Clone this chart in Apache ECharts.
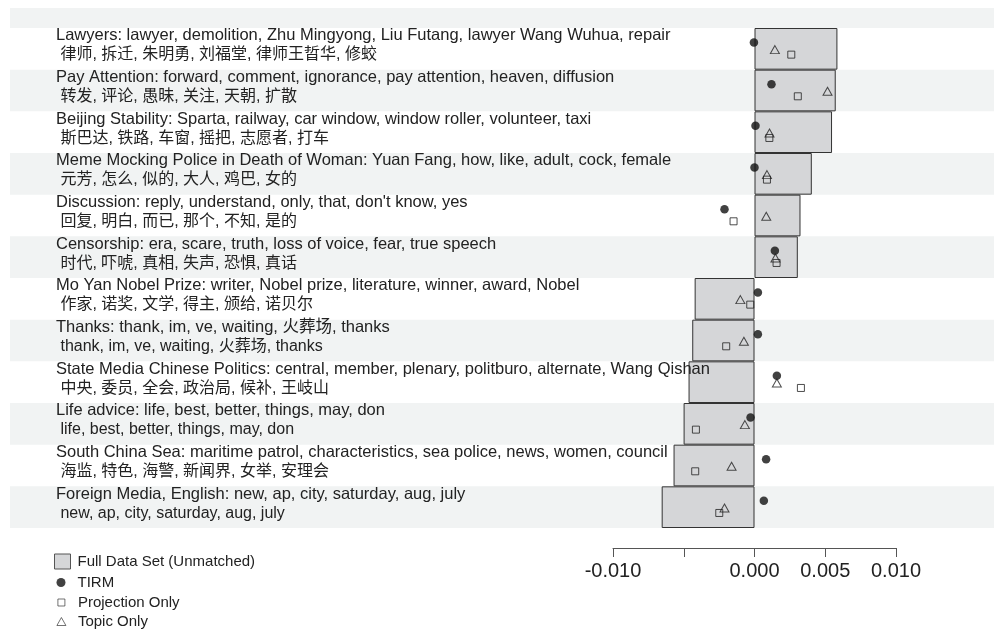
<!DOCTYPE html>
<html>
<head>
<meta charset="utf-8">
<script src="https://cdn.jsdelivr.net/npm/echarts@6/dist/echarts.min.js"></script>
<style>html,body{margin:0;padding:0;background:#fff}#c{width:994px;height:630px}</style>
</head>
<body>
<div id="c"></div>
<script>
var topicsEn = [
  'Lawyers: lawyer, demolition, Zhu Mingyong, Liu Futang, lawyer Wang Wuhua, repair',
  'Pay Attention: forward, comment, ignorance, pay attention, heaven, diffusion',
  'Beijing Stability: Sparta, railway, car window, window roller, volunteer, taxi',
  'Meme Mocking Police in Death of Woman: Yuan Fang, how, like, adult, cock, female',
  "Discussion: reply, understand, only, that, don't know, yes",
  'Censorship: era, scare, truth, loss of voice, fear, true speech',
  'Mo Yan Nobel Prize: writer, Nobel prize, literature, winner, award, Nobel',
  'Thanks: thank, im, ve, waiting, 火葬场, thanks',
  'State Media Chinese Politics: central, member, plenary, politburo, alternate, Wang Qishan',
  'Life advice: life, best, better, things, may, don',
  'South China Sea: maritime patrol, characteristics, sea police, news, women, council',
  'Foreign Media, English: new, ap, city, saturday, aug, july'
];
var topicsZh = [
  '律师, 拆迁, 朱明勇, 刘福堂, 律师王晢华, 修蛟',
  '转发, 评论, 愚昧, 关注, 天朝, 扩散',
  '斯巴达, 铁路, 车窗, 摇把, 志愿者, 打车',
  '元芳, 怎么, 似的, 大人, 鸡巴, 女的',
  '回复, 明白, 而已, 那个, 不知, 是的',
  '时代, 吓唬, 真相, 失声, 恐惧, 真话',
  '作家, 诺奖, 文学, 得主, 颁给, 诺贝尔',
  'thank, im, ve, waiting, 火葬场, thanks',
  '中央, 委员, 全会, 政治局, 候补, 王岐山',
  'life, best, better, things, may, don',
  '海监, 特色, 海警, 新闻界, 女举, 安理会',
  'new, ap, city, saturday, aug, july'
];
var fullData   = [0.00586, 0.00574, 0.00548, 0.00405, 0.00325, 0.00306, -0.00423, -0.00440, -0.00466, -0.00501, -0.00572, -0.00656];
var tirm       = [-0.00004, 0.00120, 0.00007, 0.00000, -0.00212, 0.00144, 0.00024, 0.00024, 0.00158, -0.00028, 0.00082, 0.00066];
var projection = [0.00260, 0.00306, 0.00105, 0.00088, -0.00148, 0.00156, -0.00030, -0.00200, 0.00328, -0.00414, -0.00419, -0.00249];
var topicOnly  = [0.00144, 0.00516, 0.00106, 0.00088, 0.00083, 0.00148, -0.00100, -0.00075, 0.00158, -0.00068, -0.00162, -0.00212];
var tickLabels = ['-0.010', '', '0.000', '0.005', '0.010'];

var FONT = "'Liberation Sans', 'Noto Sans CJK SC', sans-serif";
var TXT = '#222';

var chart = echarts.init(document.getElementById('c'), null, {renderer: 'canvas'});
var bandData = topicsEn.map(function (t, i) {
  return {value: 1, itemStyle: {color: i % 2 === 1 ? '#f1f3f3' : 'rgba(0,0,0,0)'}};
});
var openStyle = {color: 'rgba(0,0,0,0)', borderColor: '#222', borderWidth: 1};
function legendText(padLeft) {
  return {fontSize: 15, color: TXT, fontFamily: FONT, padding: [0, 0, 0, padLeft]};
}

var option = {
  animation: false,
  backgroundColor: '#fff',
  textStyle: {fontFamily: FONT},
  graphic: [{
    type: 'rect', left: 10, top: 8, z: -10,
    shape: {width: 984, height: 20},
    style: {fill: '#f1f3f3'}
  }],
  grid: [
    {left: 613, right: 98, top: 28, bottom: 102},
    {left: 10, right: 0, top: 28, bottom: 102}
  ],
  xAxis: [{
    type: 'value', gridIndex: 0, min: -0.01, max: 0.01, interval: 0.005,
    position: 'bottom', offset: 20,
    axisLine: {show: true, lineStyle: {color: '#555', width: 1}},
    axisTick: {show: true, length: 9, lineStyle: {color: '#555'}},
    splitLine: {show: false},
    axisLabel: {
      fontSize: 20, color: TXT, margin: 13, fontFamily: FONT,
      formatter: function (v, i) { return tickLabels[i]; }
    }
  }, {
    type: 'value', gridIndex: 1, min: 0, max: 1, show: false
  }],
  yAxis: [{
    type: 'category', gridIndex: 0, inverse: true, data: topicsEn, z: 10,
    axisLine: {show: false}, axisTick: {show: false}, splitLine: {show: false},
    axisLabel: {
      align: 'left', margin: 557, interval: 0,
      padding: [0, 0, 7, 0],
      formatter: function (v, i) { return '{e|' + topicsEn[i] + '}\n{c| ' + topicsZh[i] + '}'; },
      rich: {
        e: {fontSize: 16.5, color: TXT, fontFamily: FONT, lineHeight: 19},
        c: {fontSize: 16, color: TXT, fontFamily: FONT, lineHeight: 19}
      }
    }
  }, {
    type: 'category', gridIndex: 1, inverse: true, data: topicsEn, show: false
  }],
  legend: [{
    data: ['Full Data Set (Unmatched)'], left: 54, top: 553.5, padding: 0,
    itemWidth: 16, itemHeight: 15, itemGap: 0, icon: 'rect',
    itemStyle: {borderWidth: 1, borderColor: '#555'},
    textStyle: legendText(2)
  }, {
    data: ['TIRM'], left: 56.5, top: 575, padding: 0,
    itemWidth: 9, itemHeight: 9,
    textStyle: legendText(7)
  }, {
    data: ['Projection Only'], left: 57.5, top: 595, padding: 0,
    itemWidth: 7, itemHeight: 7,
    itemStyle: {borderWidth: 0.8},
    textStyle: legendText(8)
  }, {
    data: ['Topic Only'], left: 56.5, top: 614, padding: 0,
    itemWidth: 9, itemHeight: 8,
    itemStyle: {borderWidth: 0.8},
    textStyle: legendText(7)
  }],
  series: [{
    name: 'bands', type: 'bar', xAxisIndex: 1, yAxisIndex: 1, z: -1,
    barWidth: '100%', barCategoryGap: 0, silent: true, data: bandData
  }, {
    name: 'Full Data Set (Unmatched)', type: 'bar', xAxisIndex: 0, yAxisIndex: 0, z: 2,
    barWidth: '100%', barCategoryGap: 0,
    itemStyle: {color: '#d5d6d8', borderColor: '#333', borderWidth: 1},
    data: fullData
  }, {
    name: 'TIRM', type: 'scatter', z: 4, symbol: 'circle', symbolSize: 8.5,
    symbolOffset: [0, -6.3],
    itemStyle: {color: '#111'}, data: tirm
  }, {
    name: 'Projection Only', type: 'scatter', z: 4, symbol: 'rect', symbolSize: 7,
    symbolOffset: [0, 5.8],
    itemStyle: openStyle, data: projection
  }, {
    name: 'Topic Only', type: 'scatter', z: 4, symbol: 'triangle', symbolSize: [9, 8],
    symbolOffset: [0, 0.8],
    itemStyle: openStyle, data: topicOnly
  }]
};
chart.setOption(option);
</script>
</body>
</html>
